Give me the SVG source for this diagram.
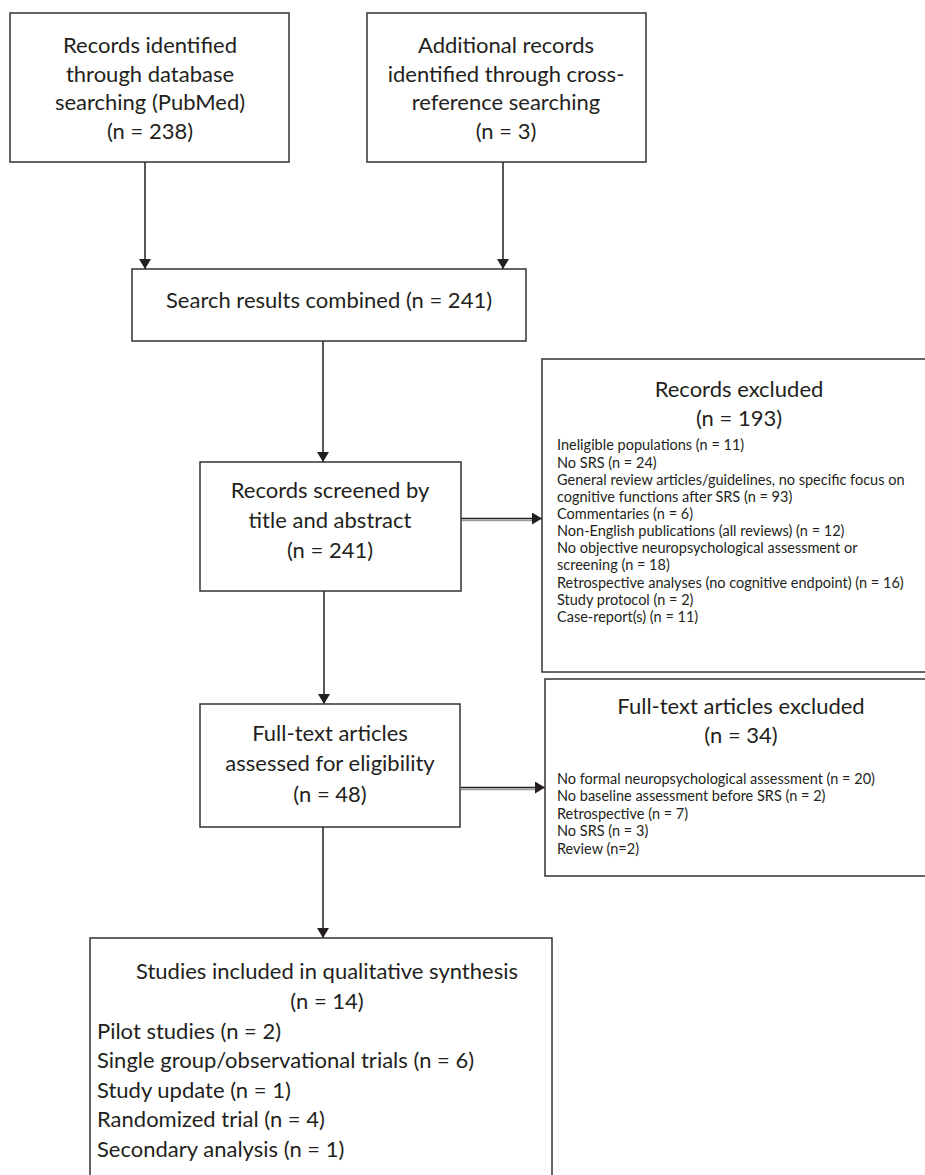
<svg xmlns="http://www.w3.org/2000/svg" width="925" height="1175" viewBox="0 0 925 1175">
<defs>
<marker id="ah" markerWidth="10" markerHeight="12" refX="10" refY="6" orient="auto" markerUnits="userSpaceOnUse">
<path d="M0,0 L10,6 L0,12 Z" fill="#231f20"/>
</marker>
<style>
.box{fill:#fff;stroke:#333;stroke-width:1.5}
.t{font-family:Lato,"Open Sans","Liberation Sans",sans-serif;fill:#231f20}
.big{font-size:22px;text-anchor:middle}
.lft{font-size:22px;text-anchor:start}
.sm{font-size:14.5px}
.ln{stroke:#231f20;stroke-width:1.5;fill:none}
.g{stroke:#9a9a9a;stroke-width:1.5;fill:none}
</style>
</defs>
<rect width="925" height="1175" fill="#fff"/>
<g id="connectors">
<line class="ln" x1="145" y1="162" x2="145" y2="269" marker-end="url(#ah)"/>
<line class="ln" x1="503" y1="162" x2="503" y2="269" marker-end="url(#ah)"/>
<line class="ln" x1="323" y1="341" x2="323" y2="462" marker-end="url(#ah)"/>
<line class="ln" x1="324" y1="591" x2="324" y2="704" marker-end="url(#ah)"/>
<line class="ln" x1="323" y1="827" x2="323" y2="938" marker-end="url(#ah)"/>
<line class="g" x1="461" y1="520.5" x2="534" y2="520.5"/>
<line class="ln" x1="461" y1="518.5" x2="542" y2="518.5" marker-end="url(#ah)"/>
<line class="g" x1="461" y1="789.5" x2="537" y2="789.5"/>
<line class="ln" x1="461" y1="787.5" x2="545" y2="787.5" marker-end="url(#ah)"/>
</g>
<g id="n1">
<rect class="box" x="10" y="13" width="279" height="149"/>
<text class="t big" x="150" y="53">Records identified</text>
<text class="t big" x="150" y="82">through database</text>
<text class="t big" x="150" y="110">searching (PubMed)</text>
<text class="t big" x="150" y="139">(n = 238)</text>
</g>
<g id="n2">
<rect class="box" x="367" y="13" width="279" height="149"/>
<text class="t big" x="506" y="53">Additional records</text>
<text class="t big" x="506" y="82">identified through cross-</text>
<text class="t big" x="506" y="110">reference searching</text>
<text class="t big" x="506" y="139">(n = 3)</text>
</g>
<g id="n3">
<rect class="box" x="132" y="269" width="394" height="72"/>
<text class="t big" x="329" y="308">Search results combined (n = 241)</text>
</g>
<g id="n4">
<rect class="box" x="200" y="462" width="261" height="129"/>
<text class="t big" x="330" y="498">Records screened by</text>
<text class="t big" x="330" y="528">title and abstract</text>
<text class="t big" x="330" y="558">(n = 241)</text>
</g>
<g id="n5">
<rect class="box" x="542" y="359" width="390" height="313"/>
<text class="t big" x="739" y="397">Records excluded</text>
<text class="t big" x="739" y="426">(n = 193)</text>
<text class="t sm" x="557" y="450">Ineligible populations (n = 11)</text>
<text class="t sm" x="557" y="467.5">No SRS (n = 24)</text>
<text class="t sm" x="557" y="484.5">General review articles/guidelines, no specific focus on</text>
<text class="t sm" x="557" y="501.5">cognitive functions after SRS (n = 93)</text>
<text class="t sm" x="557" y="518.5">Commentaries (n = 6)</text>
<text class="t sm" x="557" y="536">Non-English publications (all reviews) (n = 12)</text>
<text class="t sm" x="557" y="553">No objective neuropsychological assessment or</text>
<text class="t sm" x="557" y="570">screening (n = 18)</text>
<text class="t sm" x="557" y="587.5">Retrospective analyses (no cognitive endpoint) (n = 16)</text>
<text class="t sm" x="557" y="604.5">Study protocol (n = 2)</text>
<text class="t sm" x="557" y="621.5">Case-report(s) (n = 11)</text>
</g>
<g id="n6">
<rect class="box" x="200" y="704" width="260" height="123"/>
<text class="t big" x="330" y="741">Full-text articles</text>
<text class="t big" x="330" y="771">assessed for eligibility</text>
<text class="t big" x="330" y="802">(n = 48)</text>
</g>
<g id="n7">
<rect class="box" x="545" y="679" width="390" height="197"/>
<text class="t big" x="741" y="714">Full-text articles excluded</text>
<text class="t big" x="741" y="743">(n = 34)</text>
<text class="t sm" x="557" y="783.5">No formal neuropsychological assessment (n = 20)</text>
<text class="t sm" x="557" y="801">No baseline assessment before SRS (n = 2)</text>
<text class="t sm" x="557" y="818.5">Retrospective (n = 7)</text>
<text class="t sm" x="557" y="836">No SRS (n = 3)</text>
<text class="t sm" x="557" y="853.5">Review (n=2)</text>
</g>
<g id="n8">
<rect class="box" x="90" y="938" width="462" height="260"/>
<text class="t big" x="327" y="979">Studies included in qualitative synthesis</text>
<text class="t big" x="327" y="1009">(n = 14)</text>
<text class="t lft" x="97" y="1039">Pilot studies (n = 2)</text>
<text class="t lft" x="97" y="1068">Single group/observational trials (n = 6)</text>
<text class="t lft" x="97" y="1098">Study update (n = 1)</text>
<text class="t lft" x="97" y="1127">Randomized trial (n = 4)</text>
<text class="t lft" x="97" y="1157">Secondary analysis (n = 1)</text>
</g>
</svg>
